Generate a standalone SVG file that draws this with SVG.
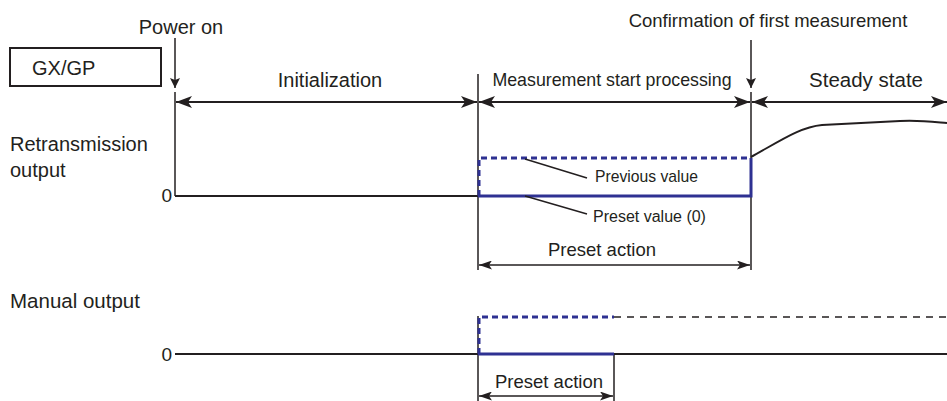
<svg xmlns="http://www.w3.org/2000/svg" width="947" height="401" viewBox="0 0 947 401">
<style>
text{font-family:"Liberation Sans",Arial,sans-serif;fill:#231f20}
.ln{stroke:#231f20;stroke-width:1.5;fill:none}
.thk{stroke:#231f20;stroke-width:2;fill:none}
.blue{stroke:#2e3192;stroke-width:3;fill:none}
.bdash{stroke:#2e3192;stroke-width:3;fill:none;stroke-dasharray:6 4}
.kdash{stroke:#231f20;stroke-width:1.5;fill:none;stroke-dasharray:7 6}
</style>
<defs>
<marker id="ah" viewBox="0 0 16 12" refX="16" refY="6" markerWidth="16" markerHeight="12" markerUnits="userSpaceOnUse" orient="auto-start-reverse">
<path d="M0,0 L16,6 L0,12 L4,6 z" fill="#231f20"/>
</marker>
<marker id="as" viewBox="0 0 13 9" refX="13" refY="4.5" markerWidth="13" markerHeight="9" markerUnits="userSpaceOnUse" orient="auto-start-reverse">
<path d="M0,0 L13,4.5 L0,9 L3,4.5 z" fill="#231f20"/>
</marker>
<marker id="ad" viewBox="0 0 10 10" refX="10" refY="5" markerWidth="10" markerHeight="10" markerUnits="userSpaceOnUse" orient="auto">
<path d="M0,0 L10,5 L0,10 L2,5 z" fill="#231f20"/>
</marker>
</defs>

<g id="gxgp">
<rect x="10" y="48" width="151" height="38" fill="none" stroke="#231f20" stroke-width="2"/>
<text x="32" y="75" font-size="20">GX/GP</text>
</g>

<g id="labels">
<text x="181" y="34" font-size="20" text-anchor="middle">Power on</text>
<text x="768" y="27" font-size="18.5" text-anchor="middle">Confirmation of first measurement</text>
<text x="330" y="87" font-size="20" text-anchor="middle">Initialization</text>
<text x="612" y="86" font-size="17.8" text-anchor="middle">Measurement start processing</text>
<text x="866" y="87" font-size="20.5" text-anchor="middle">Steady state</text>
<text x="10" y="151" font-size="20">Retransmission</text>
<text x="10" y="177" font-size="20">output</text>
<text x="172" y="202" font-size="19" text-anchor="end">0</text>
<text x="595" y="182" font-size="15.7">Previous value</text>
<text x="593" y="222" font-size="16">Preset value (0)</text>
<text x="602" y="256" font-size="18.5" text-anchor="middle">Preset action</text>
<text x="10" y="308" font-size="20.5">Manual output</text>
<text x="172" y="361" font-size="19" text-anchor="end">0</text>
<text x="549" y="388" font-size="18.5" text-anchor="middle">Preset action</text>
</g>

<g id="connectors">
<!-- event arrows -->
<line class="ln" x1="175" y1="38" x2="175" y2="88" marker-end="url(#ad)"/>
<line class="ln" x1="751" y1="40" x2="751" y2="88" marker-end="url(#ad)"/>
<!-- verticals -->
<line class="ln" x1="175" y1="92" x2="175" y2="196"/>
<line class="ln" x1="478" y1="74" x2="478" y2="270"/>
<line class="ln" x1="478" y1="316" x2="478" y2="401"/>
<line class="ln" x1="751" y1="92" x2="751" y2="270"/>
<line class="ln" x1="614" y1="354" x2="614" y2="401"/>
<!-- phase arrows -->
<line class="thk" x1="176" y1="102" x2="477" y2="102" marker-start="url(#ah)" marker-end="url(#ah)"/>
<line class="thk" x1="479" y1="102" x2="750" y2="102" marker-start="url(#ah)" marker-end="url(#ah)"/>
<line class="thk" x1="752" y1="102" x2="947" y2="102" marker-start="url(#ah)" marker-end="url(#ah)"/>
<!-- preset action arrows -->
<line class="ln" x1="479" y1="265" x2="750" y2="265" marker-start="url(#as)" marker-end="url(#as)"/>
<line class="ln" x1="479" y1="396" x2="613" y2="396" marker-start="url(#as)" marker-end="url(#as)"/>
<!-- retransmission trace -->
<line class="thk" x1="175" y1="196" x2="478" y2="196"/>
<path class="bdash" d="M479,196 V158 H751"/>
<path class="blue" d="M478,196 H751 V158"/>
<path class="thk" d="M751,157 C780,141 800,127 822,125 L900,121 C920,120 935,122 947,123"/>
<line class="ln" x1="525" y1="159" x2="587" y2="178"/>
<line class="ln" x1="525" y1="196" x2="587" y2="214"/>
<!-- manual trace -->
<line class="thk" x1="175" y1="354" x2="947" y2="354"/>
<path class="bdash" d="M479,354 V317 H614"/>
<line class="kdash" x1="614" y1="317" x2="947" y2="317"/>
<line class="blue" x1="478" y1="354" x2="614" y2="354"/>
</g>
</svg>
